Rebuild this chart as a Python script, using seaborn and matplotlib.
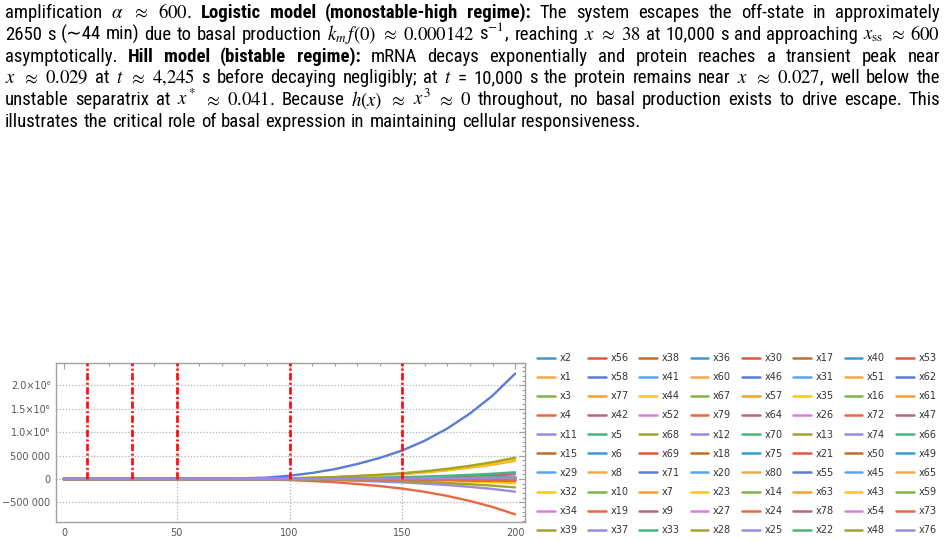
import matplotlib
matplotlib.use("Agg")
import matplotlib.pyplot as plt
from matplotlib.ticker import MultipleLocator, FixedLocator
import pandas as pd
import seaborn as sns

# sample times
t = [0, 25, 50, 75, 90, 100, 110, 120, 130, 140, 150, 160, 170, 180, 190, 200]

# curves that can be told apart in the picture
curves = {
    "x58": [0, 0, 0, 8000, 30000, 70000, 130000, 210000, 320000, 450000, 610000, 820000, 1080000, 1400000, 1780000, 2250000],
    "x68": [0, 0, 0, 2000, 6000, 14000, 26000, 42000, 65000, 91000, 123000, 166000, 218000, 283000, 360000, 455000],
    "x1": [0, 0, 0, 1500, 5500, 13000, 24000, 39000, 60000, 84000, 114000, 153000, 202000, 261000, 332000, 420000],
    "x44": [0, 0, 0, 1500, 5300, 12600, 23500, 37700, 57500, 81000, 110000, 147000, 194000, 252000, 320000, 405000],
    "x77": [0, 0, 0, 1400, 5100, 12100, 22600, 36300, 55400, 78000, 106000, 142000, 187000, 243000, 308000, 390000],
    "x5": [0, 0, 0, 500, 1900, 4400, 8300, 13300, 20300, 28600, 38800, 52100, 68600, 88900, 113000, 143000],
    "x42": [0, 0, 0, 400, 1300, 3100, 5800, 9300, 14200, 20000, 27100, 36400, 48000, 62200, 79100, 100000],
    "x34": [0, 0, 0, 100, 500, 1200, 2300, 3700, 5700, 8000, 10800, 14600, 19200, 24900, 31600, 40000],
    "x56": [0, 0, 0, 0, 100, 300, 600, 900, 1400, 2000, 2700, 3600, 4800, 6200, 7900, 10000],
    "x6": [0, 0, 0, -100, -300, -600, -1200, -1900, -2800, -4000, -5400, -7300, -9600, -12400, -15800, -20000],
    "x32": [0, 0, 0, -300, -1200, -2800, -5200, -8400, -12800, -18000, -24400, -32800, -43200, -56000, -71200, -90000],
    "x39": [0, 0, 0, -600, -2300, -5600, -10400, -16700, -25600, -36000, -48800, -65500, -86400, -112000, -142400, -180000],
    "x11": [0, 0, 0, -1000, -3500, -8400, -15700, -25100, -38300, -54000, -73200, -98300, -129600, -167900, -213600, -270000],
    "x4": [0, 0, 0, -3000, -10000, -23000, -44000, -70000, -107000, -151000, -205000, -275000, -362000, -470000, -597000, -755000],
}

# the rest sit in the thin band around zero
near_zero = [
    [0, 0, 0, 100, 400, 900, 1700, 2800, 4300, 6000, 8100, 10900, 14400, 18700, 23700, 30000],
    [0, 0, 0, 50, 200, 500, 900, 1400, 2100, 3000, 4100, 5500, 7200, 9300, 11900, 15000],
    [0, 0, 0, 0, 100, 200, 300, 500, 700, 1000, 1400, 1800, 2400, 3100, 4000, 5000],
    [0, 0, 0, -50, -200, -500, -900, -1400, -2100, -3000, -4100, -5500, -7200, -9300, -11900, -15000],
    [0, 0, 0, -100, -500, -1100, -2000, -3300, -5000, -7000, -9500, -12700, -16800, -21800, -27700, -35000],
]

series_order = [
    "x2", "x1", "x3", "x4", "x11", "x15", "x29", "x32", "x34", "x39",
    "x56", "x58", "x77", "x42", "x5", "x6", "x8", "x10", "x19", "x37",
    "x38", "x41", "x44", "x52", "x68", "x69", "x71", "x7", "x9", "x33",
    "x36", "x60", "x67", "x79", "x12", "x18", "x20", "x23", "x27", "x28",
    "x30", "x46", "x57", "x64", "x70", "x75", "x80", "x14", "x24", "x25",
    "x17", "x31", "x35", "x26", "x13", "x21", "x55", "x63", "x78", "x22",
    "x40", "x51", "x16", "x72", "x74", "x50", "x45", "x43", "x54", "x48",
    "x53", "x62", "x61", "x47", "x66", "x49", "x65", "x59", "x73", "x76",
]

palette_colors = [
    "#3C97D3", "#F4A847", "#7DB546", "#E8683F", "#9A8AE0",
    "#BF6F2A", "#5BA3F5", "#FFC414", "#D97ED9", "#A5A22A",
    "#E4553D", "#5B7CD6", "#F99F2B", "#B96480", "#46B67A",
]

marker_times = [10, 30, 50, 100, 150]
grid_x = [50, 100, 150]
ytick_vals = [-500000, 0, 500000, 1000000, 1500000, 2000000]
ytick_text = ["\u2212500 000", "0", "500 000", "1.0\u00d710\u2076", "1.5\u00d710\u2076", "2.0\u00d710\u2076"]
xtick_vals = [0, 50, 100, 150, 200]

caption_lines = [
    r"amplification $\alpha$ $\approx$ $600$. **Logistic model (monostable-high regime):** The system escapes the off-state in approximately",
    r"2650 s (∼44 min) due to basal production $k_m\,f(0)$ $\approx$ $0.000142$ s$^{-1}$, reaching $x$ $\approx$ $38$ at 10,000 s and approaching $x_\mathrm{ss}$ $\approx$ $600$",
    r"asymptotically. **Hill model (bistable regime):** mRNA decays exponentially and protein reaches a transient peak near",
    r"$x$ $\approx$ $0.029$ at $t$ $\approx$ $4{,}245$ s before decaying negligibly; at $t$ = 10,000 s the protein remains near $x$ $\approx$ $0.027$, well below the",
    r"unstable separatrix at $x^*$ $\approx$ $0.041$. Because $h(x)$ $\approx$ $x^3$ $\approx$ $0$ throughout, no basal production exists to drive escape. This",
    r"illustrates the critical role of basal expression in maintaining cellular responsiveness.",
]

# long-form table for seaborn
rows = []
k = 0
for name in series_order:
    if name in curves:
        vals = curves[name]
    else:
        vals = near_zero[k % len(near_zero)]
        k += 1
    for ti, v in zip(t, vals):
        rows.append((name, ti, v))
df = pd.DataFrame(rows, columns=["series", "t", "value"])
palette = {name: palette_colors[i % len(palette_colors)] for i, name in enumerate(series_order)}

sns.set_style("white")
plt.rcParams["mathtext.fontset"] = "stix"
plt.rcParams["font.family"] = ["DejaVu Sans"]

W, H = 946, 541
fig = plt.figure(figsize=(W / 100, H / 100), dpi=100)
ax = fig.add_axes([56 / W, 1 - 522 / H, (525 - 56) / W, (522 - 363) / H])

sns.lineplot(data=df, x="t", y="value", hue="series", hue_order=series_order,
             palette=palette, estimator=None, linewidth=1.7, ax=ax, legend="full")

ax.set_xlim(-3.55, 204.4)
ax.set_ylim(-919000, 2479000)
ax.set_xlabel("")
ax.set_ylabel("")

# grid and marker lines
for yv in ytick_vals:
    ax.axhline(yv, color="#b0b0b0", lw=0.9, ls=(0, (1, 1.5)), zorder=0)
ax.vlines(grid_x, -919000, 2479000, colors="#b0b0b0", lw=0.9, linestyles=[(0, (1, 1.5))], zorder=0)
ax.vlines(marker_times, 0, 2479000, colors="#ff1010", lw=2.0,
          linestyles=[(0, (2.6, 0.9, 0.7, 0.9))], zorder=5)

ax.xaxis.set_major_locator(FixedLocator(xtick_vals))
ax.xaxis.set_minor_locator(MultipleLocator(10))
ax.yaxis.set_major_locator(FixedLocator(ytick_vals))
ax.yaxis.set_minor_locator(MultipleLocator(100000))
ax.set_yticklabels(ytick_text)
ax.tick_params(which="both", direction="in", top=True, right=True, color="#a0a0a0",
               labelcolor="#555555", labelsize=7, width=0.8)
ax.tick_params(which="major", length=4, pad=4)
ax.tick_params(which="minor", length=2)
for sp in ax.spines.values():
    sp.set_color("#a0a0a0")
    sp.set_linewidth(1.0)

handles, labels = ax.get_legend_handles_labels()
leg = ax.legend(handles, labels, ncol=8, loc="upper left",
                bbox_to_anchor=(537 / W, 1 - 353 / H), bbox_transform=fig.transFigure,
                frameon=False, fontsize=7, handlelength=1.82, handletextpad=0.48,
                columnspacing=1.1, labelspacing=0.94, borderpad=0, borderaxespad=0)
for txt in leg.get_texts():
    txt.set_color("#333333")
for ln in leg.get_lines():
    ln.set_linewidth(1.8)

# caption, justified word by word
cap_family = ["Liberation Sans Narrow", "Roboto Condensed", "Roboto", "DejaVu Sans"]
renderer = fig.canvas.get_renderer()
X0, X1 = 5, 940


def parse_words(text):
    bold = False
    out = []
    for w in text.split(" "):
        starts = w.startswith("**")
        ends = w.endswith("**")
        if starts:
            bold = True
        out.append((w.replace("**", ""), "bold" if bold else "normal"))
        if ends:
            bold = False
    return out


def natural_fit(size):
    # every justified line must keep a space of at least 0.25 em
    for line in caption_lines[:-1]:
        words = parse_words(line)
        total = 0
        for w, wt in words:
            a = fig.text(0, 0, w, fontsize=size, family=cap_family, fontweight=wt)
            total += a.get_window_extent(renderer).width
            a.remove()
        if total + (len(words) - 1) * size * 100 / 72 * 0.25 > X1 - X0:
            return False
    return True


cap_size = 16.0
while cap_size > 7 and not natural_fit(cap_size):
    cap_size -= 0.25


def draw_caption_line(text, y_px, justify=True):
    items = []
    for w, wt in parse_words(text):
        a = fig.text(0, 1 - y_px / H, w, fontsize=cap_size, family=cap_family,
                     fontweight=wt, va="baseline", ha="left", color="black")
        items.append(a)
    widths = [a.get_window_extent(renderer).width for a in items]
    if justify and len(items) > 1:
        gap = (X1 - X0 - sum(widths)) / (len(items) - 1)
    else:
        gap = cap_size * 100 / 72 * 0.26
    x = X0
    for a, w in zip(items, widths):
        a.set_x(x / W)
        x += w + gap


for i, line in enumerate(caption_lines):
    draw_caption_line(line, 18 + 21.8 * i, justify=(i < len(caption_lines) - 1))

fig.savefig("out.png", dpi=100)
